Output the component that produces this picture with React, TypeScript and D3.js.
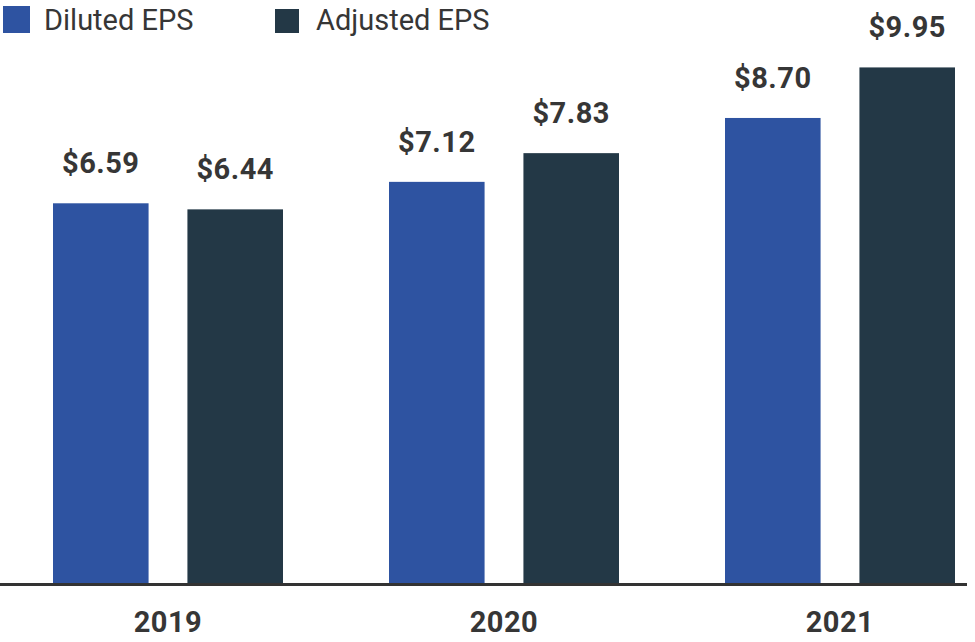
import { useMemo } from 'react';
import * as d3 from 'd3';

const years = ['2019', '2020', '2021'];
const seriesNames = ['Diluted EPS', 'Adjusted EPS'];
const dilutedEps = [6.59, 7.12, 8.7];
const adjustedEps = [6.44, 7.83, 9.95];
const seriesColors = ['#2e53a1', '#233846'];

const WIDTH = 975;
const HEIGHT = 642;
const BASELINE = 583;
const TEXT_COLOR = '#363636';
const FONT = 'Roboto, "Noto Sans", sans-serif';

export default function App(): React.JSX.Element {
  const x0 = useMemo(
    () => d3.scaleBand<string>().domain(years).range([53, 955]).paddingInner(0.3155).paddingOuter(0),
    []
  );
  const x1 = useMemo(
    () => d3.scaleBand<string>().domain(seriesNames).range([0, x0.bandwidth()]).paddingInner(0.289),
    [x0]
  );
  // baseline of the original chart is not at zero
  const y = useMemo(() => d3.scaleLinear().domain([-2.8, 10]).range([BASELINE, 65.4]), []);

  const values = [dilutedEps, adjustedEps];
  const legend = [
    { x: 3, y: 6, size: 27, textX: 44 },
    { x: 275, y: 9, size: 24, textX: 316 },
  ];

  return (
    <div style={{ position: 'absolute', left: 0, top: 0 }}>
      <svg width={WIDTH} height={HEIGHT} style={{ display: 'block', fontFamily: FONT }}>
        {/* Legend */}
        {seriesNames.map((name, i) => (
          <g key={name}>
            <rect x={legend[i].x} y={legend[i].y} width={legend[i].size} height={legend[i].size} fill={seriesColors[i]} />
            <text x={legend[i].textX} y={30} fontSize={29} fill={TEXT_COLOR}>
              {name}
            </text>
          </g>
        ))}

        {/* Bars */}
        {years.map((year, gi) => (
          <g key={year} transform={`translate(${x0(year)},0)`}>
            {seriesNames.map((name, si) => {
              const v = values[si][gi];
              const bx = x1(name) ?? 0;
              const top = y(v);
              return (
                <g key={name}>
                  <rect x={bx} y={top} width={x1.bandwidth()} height={BASELINE - top} fill={seriesColors[si]} />
                  <text
                    x={bx + x1.bandwidth() / 2}
                    y={top - 30}
                    textAnchor="middle"
                    fontSize={29}
                    fontWeight="bold"
                    letterSpacing={0.5}
                    fill={TEXT_COLOR}
                  >
                    {`$${v.toFixed(2)}`}
                  </text>
                </g>
              );
            })}
            <text
              x={x0.bandwidth() / 2}
              y={632}
              textAnchor="middle"
              fontSize={29}
              fontWeight="bold"
              letterSpacing={0.5}
              fill={TEXT_COLOR}
            >
              {year}
            </text>
          </g>
        ))}

        {/* Axis line */}
        <line x1={0} x2={967} y1={BASELINE + 1.5} y2={BASELINE + 1.5} stroke="#333333" strokeWidth={3} />
      </svg>
    </div>
  );
}
